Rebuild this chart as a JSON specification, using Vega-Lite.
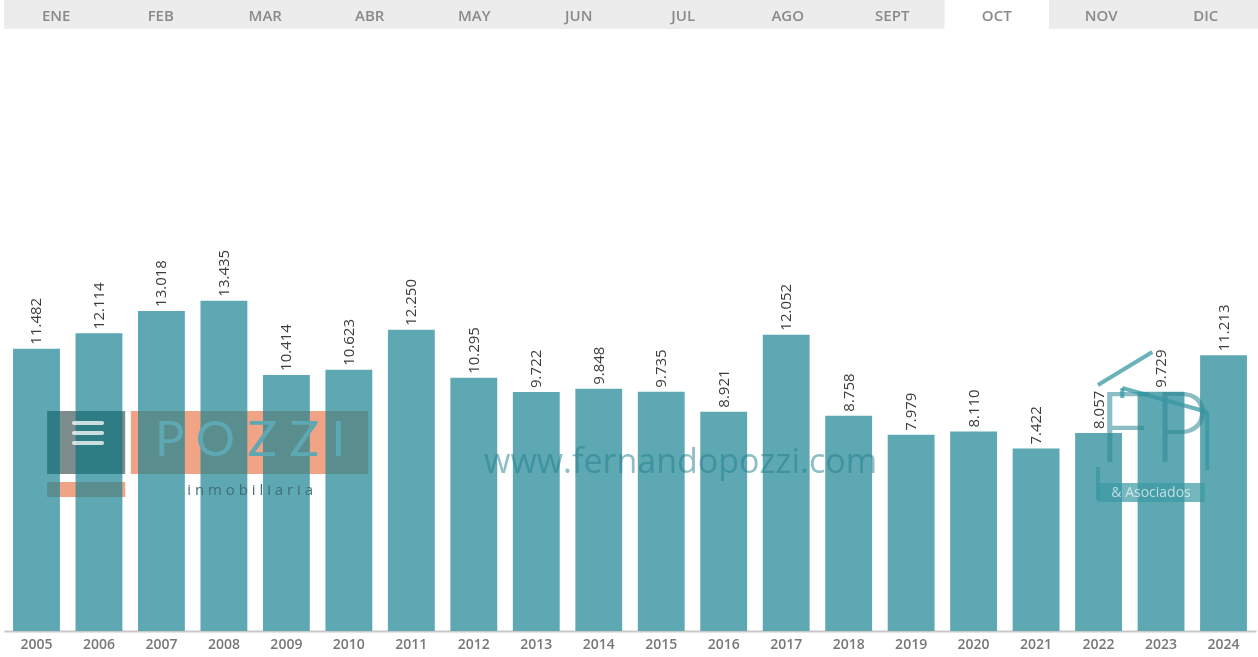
{
  "$schema": "https://vega.github.io/schema/vega-lite/v6.json",
  "padding": {"left": 4, "top": 0, "right": 0, "bottom": 0},
  "spacing": 6,
  "config": {
    "view": {"stroke": null},
    "font": "Open Sans",
    "locale": {"number": {"decimal": ",", "thousands": ".", "grouping": [3], "currency": ["", " €"]}}
  },
  "vconcat": [
    {
      "width": 1254,
      "height": 29,
      "view": {"fill": "#ececec", "stroke": null},
      "data": {"values": [
        {"m": "ENE"}, {"m": "FEB"}, {"m": "MAR"}, {"m": "ABR"}, {"m": "MAY"}, {"m": "JUN"},
        {"m": "JUL"}, {"m": "AGO"}, {"m": "SEPT"}, {"m": "OCT"}, {"m": "NOV"}, {"m": "DIC"}
      ]},
      "encoding": {
        "x": {"field": "m", "type": "nominal", "sort": null, "scale": {"paddingInner": 0, "paddingOuter": 0}, "axis": null}
      },
      "layer": [
        {
          "mark": {"type": "rect", "color": "#ffffff"},
          "encoding": {
            "opacity": {"condition": {"test": "datum.m === 'OCT'", "value": 1}, "value": 0}
          }
        },
        {
          "mark": {"type": "text", "fontSize": 15, "fontWeight": 600, "color": "#8a8a8a", "baseline": "middle", "font": "Open Sans", "dy": 1},
          "encoding": {"text": {"field": "m"}}
        }
      ]
    },
    {
      "width": 1252,
      "height": 596,
      "data": {"values": [
        {"year": "2005", "sales": 11482}, {"year": "2006", "sales": 12114}, {"year": "2007", "sales": 13018},
        {"year": "2008", "sales": 13435}, {"year": "2009", "sales": 10414}, {"year": "2010", "sales": 10623},
        {"year": "2011", "sales": 12250}, {"year": "2012", "sales": 10295}, {"year": "2013", "sales": 9722},
        {"year": "2014", "sales": 9848}, {"year": "2015", "sales": 9735}, {"year": "2016", "sales": 8921},
        {"year": "2017", "sales": 12052}, {"year": "2018", "sales": 8758}, {"year": "2019", "sales": 7979},
        {"year": "2020", "sales": 8110}, {"year": "2021", "sales": 7422}, {"year": "2022", "sales": 8057},
        {"year": "2023", "sales": 9729}, {"year": "2024", "sales": 11213}
      ]},
      "resolve": {"scale": {"x": "independent"}},
      "layer": [
        {
          "data": {"values": [{}]},
          "layer": [
            {
              "mark": {"type": "rect", "color": "#fac4a8"},
              "encoding": {
                "x": {"datum": 2006.51, "type": "quantitative", "scale": {"domain": [2004.48, 2024.52], "nice": false, "zero": false}, "axis": null},
                "x2": {"datum": 2010.31},
                "y": {"datum": 6386, "type": "quantitative"},
                "y2": {"datum": 8948}
              }
            },
            {
              "mark": {"type": "rect", "color": "#fac4a8"},
              "encoding": {
                "x": {"datum": 2005.17, "type": "quantitative", "scale": {"domain": [2004.48, 2024.52], "nice": false, "zero": false}, "axis": null},
                "x2": {"datum": 2006.42},
                "y": {"datum": 5450, "type": "quantitative"},
                "y2": {"datum": 6060}
              }
            },
            {
              "mark": {"type": "rect", "color": "#ffbdbd"},
              "encoding": {
                "x": {"datum": 2005.17, "type": "quantitative", "scale": {"domain": [2004.48, 2024.52], "nice": false, "zero": false}, "axis": null},
                "x2": {"datum": 2006.42},
                "y": {"datum": 6386, "type": "quantitative"},
                "y2": {"datum": 8948}
              }
            }
          ]
        },
        {
          "encoding": {
            "x": {
              "field": "year", "type": "nominal",
              "scale": {"paddingInner": 0.25, "paddingOuter": 0.145},
              "axis": {"title": null, "labelAngle": 0, "ticks": false, "domainColor": "#c8c8c8", "domainWidth": 2, "labelColor": "#777777", "labelFontSize": 14, "labelFontWeight": 600, "labelPadding": 6, "labelFont": "Open Sans"}
            },
            "y": {
              "field": "sales", "type": "quantitative",
              "scale": {"domain": [0, 24240], "nice": false},
              "axis": {"title": null, "labels": false, "ticks": false, "domain": false, "values": [0, 5000, 10000, 15000, 20000], "gridColor": "#ebebeb", "gridWidth": 1.5}
            }
          },
          "layer": [
            {"mark": {"type": "bar", "color": "#5ea8b3"}},
            {
              "mark": {"type": "text", "angle": 270, "align": "left", "baseline": "middle", "dx": 4, "fontSize": 15, "color": "#3c3c3c", "font": "Open Sans"},
              "encoding": {"text": {"field": "sales", "type": "quantitative", "format": ",d"}}
            }
          ]
        },
        {
          "data": {"values": [{}]},
          "layer": [
            {
              "mark": {"type": "rect", "color": "#f5d6ca", "blend": "multiply"},
              "encoding": {
                "x": {"datum": 2006.51, "type": "quantitative", "scale": {"domain": [2004.48, 2024.52], "nice": false, "zero": false}, "axis": null},
                "x2": {"datum": 2010.31},
                "y": {"datum": 6386, "type": "quantitative"},
                "y2": {"datum": 8948}
              }
            },
            {
              "mark": {"type": "rect", "color": "#f5d6ca", "blend": "multiply"},
              "encoding": {
                "x": {"datum": 2005.17, "type": "quantitative"},
                "x2": {"datum": 2006.42},
                "y": {"datum": 5450, "type": "quantitative"},
                "y2": {"datum": 6060}
              }
            },
            {
              "mark": {"type": "rect", "color": "#7dbebe", "blend": "multiply"},
              "encoding": {
                "x": {"datum": 2005.17, "type": "quantitative"},
                "x2": {"datum": 2006.42},
                "y": {"datum": 6386, "type": "quantitative"},
                "y2": {"datum": 8948}
              }
            },
            {
              "mark": {"type": "rule", "color": "#ffffff", "strokeWidth": 4, "opacity": 0.75, "strokeCap": "round"},
              "encoding": {
                "x": {"datum": 2005.6, "type": "quantitative"},
                "x2": {"datum": 2006.05},
                "y": {"datum": 8460, "type": "quantitative"}
              }
            },
            {
              "mark": {"type": "rule", "color": "#ffffff", "strokeWidth": 4, "opacity": 0.75, "strokeCap": "round"},
              "encoding": {
                "x": {"datum": 2005.6, "type": "quantitative"},
                "x2": {"datum": 2006.05},
                "y": {"datum": 8053, "type": "quantitative"}
              }
            },
            {
              "mark": {"type": "rule", "color": "#ffffff", "strokeWidth": 4, "opacity": 0.75, "strokeCap": "round"},
              "encoding": {
                "x": {"datum": 2005.6, "type": "quantitative"},
                "x2": {"datum": 2006.05},
                "y": {"datum": 7646, "type": "quantitative"}
              }
            },
            {
              "mark": {"type": "text", "text": "P O Z Z I", "font": "Lato", "fontWeight": 400, "fontSize": 49, "color": "#5ea8b3", "align": "center", "baseline": "middle"},
              "encoding": {
                "x": {"datum": 2008.42, "type": "quantitative"},
                "y": {"datum": 7728, "type": "quantitative"}
              }
            },
            {
              "mark": {"type": "text", "text": "i  n  m  o  b  i  l  i  a  r  i  a", "font": "Open Sans", "fontSize": 15, "color": "#3f6f76", "align": "center", "baseline": "middle"},
              "encoding": {
                "x": {"datum": 2008.42, "type": "quantitative"},
                "y": {"datum": 5735, "type": "quantitative"}
              }
            },
            {
              "mark": {"type": "text", "text": "www.fernandopozzi.com", "font": "Open Sans", "fontSize": 34, "color": "#1f7f8c", "opacity": 0.5, "align": "center", "baseline": "middle"},
              "encoding": {
                "x": {"datum": 2015.31, "type": "quantitative"},
                "y": {"datum": 6833, "type": "quantitative"}
              }
            },
            {
              "mark": {"type": "text", "text": "FP", "font": "Lato", "fontWeight": 300, "fontSize": 98, "color": "#2b8894", "opacity": 0.55, "align": "center", "baseline": "bottom"},
              "encoding": {
                "x": {"datum": 2022.87, "type": "quantitative"},
                "y": {"datum": 6000, "type": "quantitative"}
              }
            },
            {
              "mark": {"type": "rect", "color": "#3a98a4", "opacity": 0.7},
              "encoding": {
                "x": {"datum": 2021.99, "type": "quantitative"},
                "x2": {"datum": 2023.7},
                "y": {"datum": 5247, "type": "quantitative"},
                "y2": {"datum": 6019}
              }
            },
            {
              "mark": {"type": "text", "text": "& Asociados", "font": "Open Sans", "fontSize": 14, "color": "#ffffff", "opacity": 0.65, "align": "center", "baseline": "middle"},
              "encoding": {
                "x": {"datum": 2022.84, "type": "quantitative"},
                "y": {"datum": 5610, "type": "quantitative"}
              }
            },
            {
              "mark": {"type": "rule", "color": "#3897a3", "strokeWidth": 4, "opacity": 0.75},
              "encoding": {
                "x": {"datum": 2021.99, "type": "quantitative"},
                "x2": {"datum": 2022.86},
                "y": {"datum": 10005, "type": "quantitative"},
                "y2": {"datum": 11347}
              }
            },
            {
              "mark": {"type": "rule", "color": "#3897a3", "strokeWidth": 4, "opacity": 0.75},
              "encoding": {
                "x": {"datum": 2022.38, "type": "quantitative"},
                "x2": {"datum": 2023.74},
                "y": {"datum": 9883, "type": "quantitative"},
                "y2": {"datum": 8907}
              }
            },
            {
              "mark": {"type": "rule", "color": "#3897a3", "strokeWidth": 4, "opacity": 0.75},
              "encoding": {
                "x": {"datum": 2023.74, "type": "quantitative"},
                "y": {"datum": 8907, "type": "quantitative"},
                "y2": {"datum": 6548}
              }
            },
            {
              "mark": {"type": "rule", "color": "#3897a3", "strokeWidth": 4, "opacity": 0.75},
              "encoding": {
                "x": {"datum": 2021.99, "type": "quantitative"},
                "y": {"datum": 6670, "type": "quantitative"},
                "y2": {"datum": 5328}
              }
            },
            {
              "mark": {"type": "rule", "color": "#3897a3", "strokeWidth": 4, "opacity": 0.75},
              "encoding": {
                "x": {"datum": 2022.38, "type": "quantitative"},
                "y": {"datum": 9883, "type": "quantitative"},
                "y2": {"datum": 9475}
              }
            }
          ]
        }
      ]
    }
  ]
}
